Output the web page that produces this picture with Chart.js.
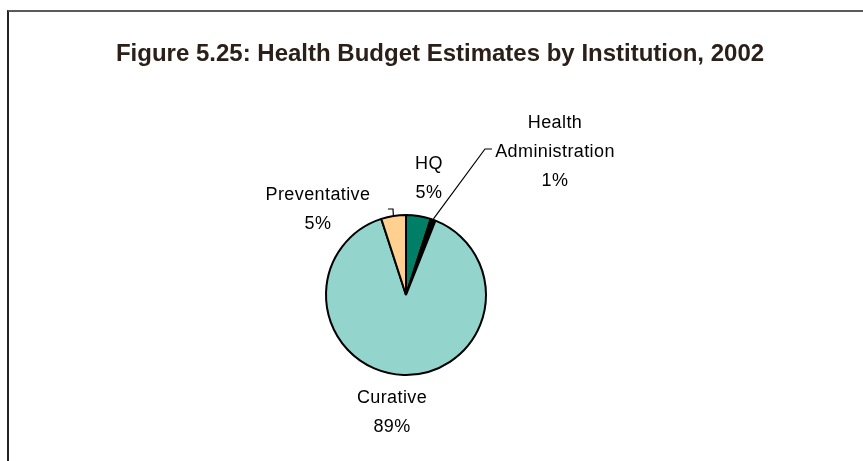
<!DOCTYPE html>
<html lang="en">
<head>
<meta charset="UTF-8">
<title>Health Budget Estimates by Institution, 2002</title>
<script src="https://cdn.jsdelivr.net/npm/chart.js"></script>
<style>
    html, body { margin: 0; padding: 0; background: #fff; overflow: hidden; }
    #frame { position: absolute; left: 7px; top: 10px; width: 900px; height: 500px;
             border-left: 2px solid #222; border-top: 2px solid #5a5a5a; }
    #budgetChart { position: absolute; left: 0; top: 0; }
</style>
</head>
<body>
<div id="frame"></div>
<canvas id="budgetChart" width="863" height="461"></canvas>
<script>
const titleText = 'Figure 5.25: Health Budget Estimates by Institution, 2002';
const institutions = [['HQ'], ['Health', 'Administration'], ['Curative'], ['Preventative']];
const shares = [5, 1, 89, 5];
const sliceColors = ['#007f66', '#000000', '#93d4cc', '#ffd08f'];

// label block centres, relative to the pie centre
const labelPos = [[23, -116], [149, -143], [-14, 118], [-88, -85]];
// elbow leader lines: rim point -> elbow -> end (relative to pie centre)
const leaders = [null, [[79, -146], [86, -146]], null, [[-13, -86], [-18, -86]]];

const LABEL_FONT = '18px "Liberation Sans", Arial, sans-serif';
const LINE_H = 29;

const pieLabels = {
    id: 'pieLabels',
    afterDatasetsDraw(chart) {
        const ctx = chart.ctx;
        const arcs = chart.getDatasetMeta(0).data;
        ctx.save();
        arcs.forEach((arc, i) => {
            const cx = arc.x, cy = arc.y;
            const mid = (arc.startAngle + arc.endAngle) / 2;
            const r = arc.outerRadius + 1;
            if (leaders[i]) {
                ctx.beginPath();
                ctx.strokeStyle = '#000';
                ctx.lineWidth = 1.2;
                ctx.moveTo(cx + Math.cos(mid) * r, cy + Math.sin(mid) * r);
                leaders[i].forEach(p => ctx.lineTo(cx + p[0], cy + p[1]));
                ctx.stroke();
            }
            const lines = institutions[i].concat([shares[i] + '%']);
            ctx.font = LABEL_FONT;
            ctx.letterSpacing = '0.4px';
            ctx.fillStyle = '#000';
            ctx.textAlign = 'center';
            ctx.textBaseline = 'middle';
            const x = cx + labelPos[i][0];
            const y0 = cy + labelPos[i][1] - (lines.length - 1) * LINE_H / 2;
            lines.forEach((t, k) => ctx.fillText(t, x, y0 + k * LINE_H));
        });
        ctx.restore();
    }
};

const figureTitle = {
    id: 'figureTitle',
    afterDraw(chart) {
        const ctx = chart.ctx;
        ctx.save();
        ctx.font = 'bold 24px "Liberation Sans", Arial, sans-serif';
        ctx.fillStyle = '#2a2019';
        ctx.textAlign = 'center';
        ctx.textBaseline = 'middle';
        ctx.fillText(titleText, 440, 54);
        ctx.restore();
    }
};

new Chart(document.getElementById('budgetChart'), {
    type: 'pie',
    data: {
        labels: institutions.map(l => l.join(' ')),
        datasets: [{
            data: shares,
            backgroundColor: sliceColors,
            borderColor: '#000',
            borderWidth: 2
        }]
    },
    options: {
        responsive: false,
        animation: false,
        layout: { padding: { left: 325, right: 376, top: 214, bottom: 85 } },
        plugins: {
            legend: { display: false },
            title: { display: false },
            tooltip: { enabled: false }
        }
    },
    plugins: [pieLabels, figureTitle]
});
</script>
</body>
</html>
